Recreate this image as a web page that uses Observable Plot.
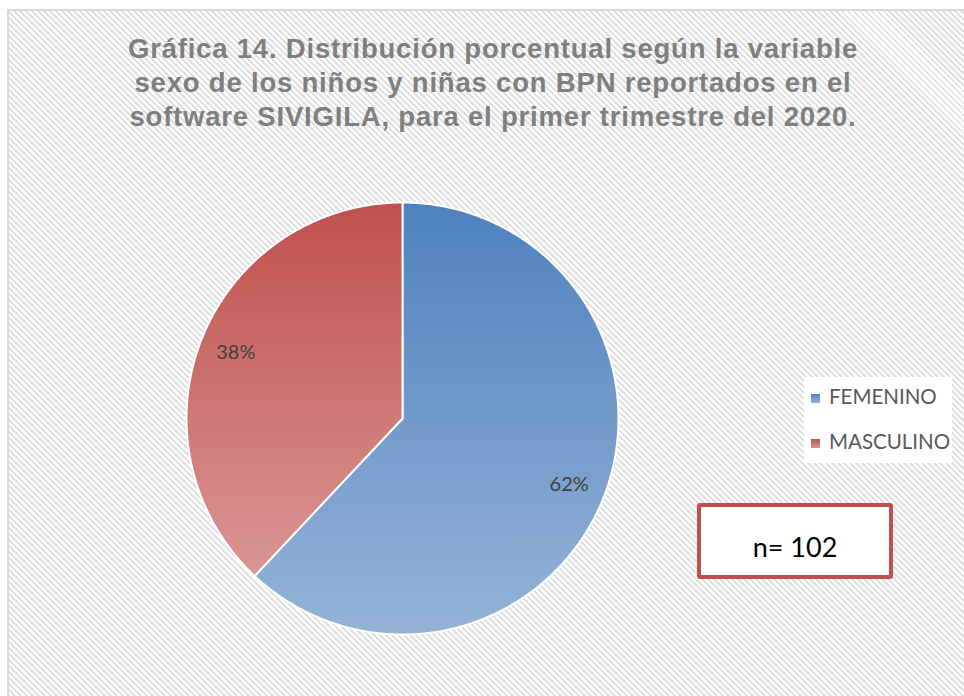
<!DOCTYPE html>
<html>
<head>
<meta charset="utf-8">
<script src="https://cdn.jsdelivr.net/npm/d3@7"></script>
<script src="https://cdn.jsdelivr.net/npm/@observablehq/plot@0.6"></script>
<style>
  html, body { margin: 0; padding: 0; background: #fff; overflow: hidden; }
  #wrap { position: relative; width: 964px; height: 696px; overflow: hidden; }
  #frame {
    position: absolute; left: 7px; top: 9px; width: 1000px; height: 720px;
    border: 2px solid #d9d9d9; box-sizing: border-box;
    background: repeating-linear-gradient(45deg, #e1e1e1 0px, #e1e1e1 2.1px, #ffffff 2.1px, #ffffff 4.24px);
  }
  #title {
    position: absolute; left: 0; width: 986px; top: 31.5px; text-align: center;
    font-family: "Liberation Sans", Arial, sans-serif; font-weight: bold;
    font-size: 27.5px; letter-spacing: 0.8px; line-height: 34px; color: #7f7f7f; white-space: pre;
  }
  #plot { position: absolute; left: 0; top: 0; }
  #legend {
    position: absolute; left: 804px; top: 377px; width: 148px; height: 86px; background: #fff;
    font-family: Lato, "Open Sans", sans-serif; font-size: 20.5px; color: #595959;
  }
  .li { position: absolute; left: 7px; height: 24px; line-height: 24px; white-space: nowrap; }
  .sw { display: inline-block; width: 9px; height: 9px; margin-right: 9px; vertical-align: 1px; }
  #nbox {
    position: absolute; left: 697px; top: 503px; width: 196px; height: 76px; box-sizing: border-box;
    border: 4px solid #c0504d; border-radius: 3px; background: #fff;
    font-family: Lato, "Open Sans", sans-serif; font-size: 27px; color: #000;
    display: flex; align-items: center; justify-content: center; padding-top: 10px;
  }
</style>
</head>
<body>
<div id="wrap">
  <div id="frame"></div>
  <div id="title"></div>
  <div id="plot"></div>
  <div id="legend"></div>
  <div id="nbox"></div>
</div>
<script>
// ---- data ----
const titleLines = [
  "Gráfica 14. Distribución porcentual según la variable",
  "sexo de los niños y niñas con BPN reportados en el",
  "software SIVIGILA, para el primer trimestre del 2020."
];
const categories = ["FEMENINO", "MASCULINO"];
const percents = [62, 38];
const labels = ["62%", "38%"];
const colorsTop = ["#4f81bd", "#c0504d"];
const colorsBottom = ["#95b3d7", "#d99694"];
const nLabel = "n= 102";

// ---- text ----
document.getElementById("title").textContent = titleLines.join("\n");
document.getElementById("nbox").textContent = nLabel;
const legend = document.getElementById("legend");
categories.forEach((c, i) => {
  const d = document.createElement("div");
  d.className = "li";
  d.style.top = (7 + i * 45) + "px";
  d.innerHTML = `<span class="sw" style="background:linear-gradient(${colorsTop[i]},${colorsBottom[i]})"></span>${c}`;
  legend.appendChild(d);
});

// ---- pie geometry from data ----
const total = d3.sum(percents);
let acc = 0;
const slices = percents.map((v, i) => {
  const a0 = acc / total * 2 * Math.PI;
  acc += v;
  const a1 = acc / total * 2 * Math.PI;
  const pts = [{x: 0, y: 0}];
  const n = Math.max(2, Math.ceil((a1 - a0) / (Math.PI / 360)));
  for (let k = 0; k <= n; k++) {
    const a = a0 + (a1 - a0) * k / n;
    pts.push({x: Math.sin(a), y: Math.cos(a)});
  }
  const mid = (a0 + a1) / 2;
  return {i, pts, label: {x: 0.83 * Math.sin(mid), y: 0.83 * Math.cos(mid), text: labels[i]}};
});

const cx = 402, cy = 418, r = 216;
const svg = Plot.plot({
  width: 964, height: 696, margin: 0,
  style: {background: "transparent", overflow: "visible"},
  x: {domain: [-1, 1], range: [cx - r, cx + r], axis: null},
  y: {domain: [-1, 1], range: [cy + r, cy - r], axis: null},
  marks: [
    ...slices.map(s => Plot.line(s.pts, {
      x: "x", y: "y", curve: "linear-closed",
      fill: `url(#pieGrad${s.i})`, stroke: "white", strokeWidth: 2, strokeLinejoin: "miter"
    })),
    Plot.text(slices.map(s => s.label), {
      x: "x", y: "y", text: "text", fontSize: 20, fill: "#404040",
      fontFamily: "Lato, 'Open Sans', sans-serif"
    })
  ]
});
const defs = d3.select(svg).insert("defs", ":first-child");
categories.forEach((c, i) => {
  const g = defs.append("linearGradient").attr("id", "pieGrad" + i)
    .attr("x1", 0).attr("y1", 0).attr("x2", 0).attr("y2", 1);
  g.append("stop").attr("offset", 0).attr("stop-color", colorsTop[i]);
  g.append("stop").attr("offset", 1).attr("stop-color", colorsBottom[i]);
});
document.getElementById("plot").appendChild(svg);
</script>
</body>
</html>
